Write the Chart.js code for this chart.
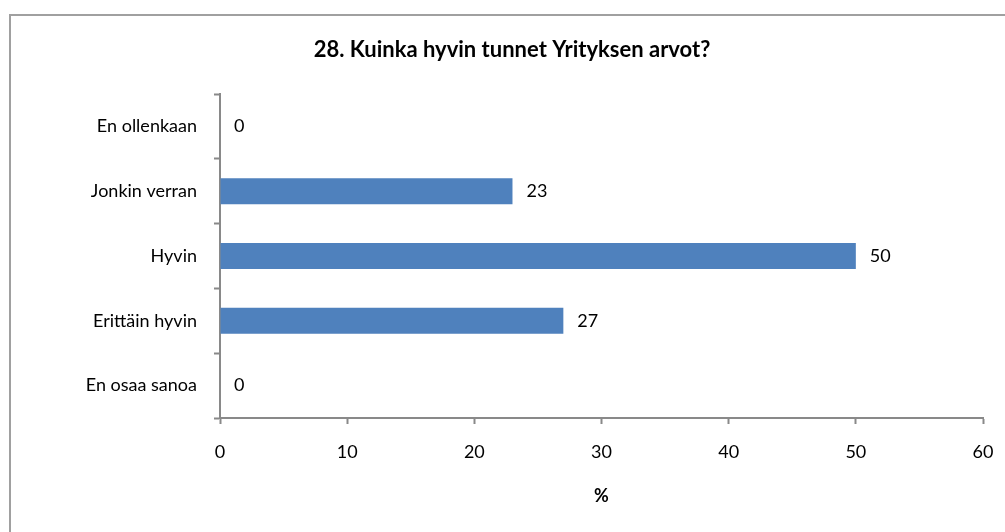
<!DOCTYPE html>
<html>
<head>
<meta charset="utf-8">
<script src="https://cdn.jsdelivr.net/npm/chart.js@4/dist/chart.umd.min.js"></script>
<style>
  html, body { margin: 0; padding: 0; background: #fff; overflow: hidden; }
  #wrap { position: relative; width: 1005px; height: 532px; }
  #frame {
    position: absolute; left: 9px; top: 14px; width: 1200px; height: 700px;
    border-left: 2px solid #a0a0a0; border-top: 2px solid #a0a0a0;
  }
  canvas { position: absolute; left: 0; top: 0; }
</style>
</head>
<body>
<div id="wrap">
  <div id="frame"></div>
  <canvas id="myChart" width="1005" height="532"></canvas>
</div>
<script>
const categories = ['En ollenkaan', 'Jonkin verran', 'Hyvin', 'Erittäin hyvin', 'En osaa sanoa'];
const values = [0, 23, 50, 27, 0];
const xMin = 0;
const xMax = 60;
const xStep = 10;
const chartTitle = '28. Kuinka hyvin tunnet Yrityksen arvot?';

const axisColor = '#898989';
const font = 'Lato';

// title drawn by hand so it can sit off the canvas centre
const titleText = {
  id: 'titleText',
  afterDraw(chart) {
    const ctx = chart.ctx;
    ctx.save();
    ctx.font = 'bold 22px ' + font;
    ctx.fillStyle = '#000';
    ctx.textAlign = 'center';
    ctx.textBaseline = 'alphabetic';
    ctx.fillText(chartTitle, 512, 57);
    ctx.restore();
  }
};

// value labels to the right of each bar
const valueLabels = {
  id: 'valueLabels',
  afterDatasetsDraw(chart) {
    const ctx = chart.ctx;
    const meta = chart.getDatasetMeta(0);
    ctx.save();
    ctx.font = '18px ' + font;
    ctx.fillStyle = '#000';
    ctx.textAlign = 'left';
    ctx.textBaseline = 'middle';
    meta.data.forEach((bar, i) => {
      ctx.fillText(String(values[i]), bar.x + 14, bar.y);
    });
    ctx.restore();
  }
};

const ctx = document.getElementById('myChart').getContext('2d');
const myChart = new Chart(ctx, {
  type: 'bar',
  data: {
    labels: categories,
    datasets: [{
      data: values,
      backgroundColor: '#4F81BD',
      borderWidth: 0,
      barPercentage: 0.4,
      categoryPercentage: 1
    }]
  },
  options: {
    indexAxis: 'y',
    responsive: false,
    animation: false,
    layout: { padding: { left: 0, right: 22, top: 94, bottom: 0 } },
    scales: {
      x: {
        min: xMin,
        max: xMax,
        afterFit: s => {
          s.height = 114;
          s.paddingLeft = 0;
          s.paddingRight = 0;
        },
        border: { color: axisColor, width: 2 },
        grid: {
          drawOnChartArea: false,
          drawTicks: true,
          tickLength: 6,
          tickColor: axisColor,
          tickWidth: 2
        },
        ticks: {
          stepSize: xStep,
          color: '#000',
          padding: 17,
          maxRotation: 0,
          font: { family: font, size: 18 }
        },
        title: {
          display: true,
          text: '%',
          color: '#000',
          font: { family: font, size: 18, weight: 'bold' },
          padding: { top: 0, bottom: 25 }
        }
      },
      y: {
        afterFit: s => {
          s.width = 220;
          s.paddingTop = 0;
          s.paddingBottom = 0;
        },
        border: { color: axisColor, width: 2 },
        grid: {
          offset: true,
          drawOnChartArea: false,
          drawTicks: true,
          tickLength: 6,
          tickColor: axisColor,
          tickWidth: 2
        },
        ticks: {
          color: '#000',
          padding: 17,
          font: { family: font, size: 18 }
        }
      }
    },
    plugins: {
      legend: { display: false },
      tooltip: { enabled: false },
      title: { display: false }
    }
  },
  plugins: [valueLabels, titleText]
});
</script>
</body>
</html>
